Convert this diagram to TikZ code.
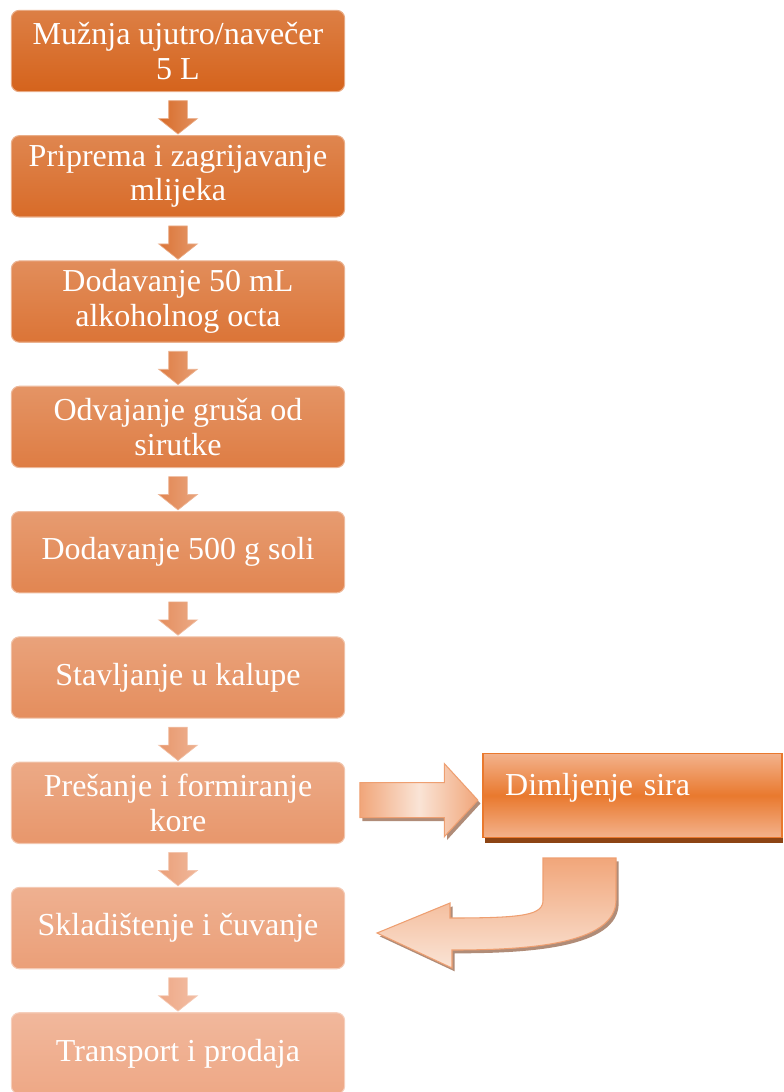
\documentclass[tikz,border=0pt]{standalone}
\usepackage{fontspec}
\setmainfont{Liberation Serif}
\usetikzlibrary{calc,shapes.arrows,shadows}

\definecolor{tamna}{RGB}{213,99,28}
\definecolor{svijetla}{RGB}{238,168,134}
\definecolor{dimrub}{RGB}{233,121,46}
\definecolor{dimsv}{RGB}{243,178,140}
\definecolor{dimsjena}{RGB}{140,68,20}
\definecolor{strelica}{RGB}{241,166,122}
\definecolor{strelicab}{RGB}{250,228,214}
\definecolor{sjena}{RGB}{176,140,120}

\tikzset{
  korak/.style={rectangle, rounded corners=6pt, minimum width=250pt, minimum height=61pt,
    inner sep=2pt, text=white, align=center, font=\fontsize{24}{26}\selectfont,
    draw=#1!55!white, line width=0.8pt, top color=#1!82!white, bottom color=#1},
  strelicica/.style={single arrow, rotate=-90, minimum height=25pt,
    inner xsep=0pt, inner ysep=6.75pt, single arrow head extend=7.5pt, single arrow tip angle=103,
    draw=#1!60!white, line width=0.5pt, left color=#1, right color=#1!75!white},
  dimbox/.style={rectangle, minimum width=224pt, minimum height=63pt, text width=191pt,
    inner xsep=16.5pt, align=left, text height=14pt, text depth=14pt,
    font=\fontsize{24}{26}\selectfont, text=white, draw=dimrub, line width=1.2pt,
    top color=dimsv, bottom color=dimsv, middle color=dimrub,
    general shadow={fill=dimsjena, shadow xshift=1pt, shadow yshift=-4pt}},
  velika/.style={draw=strelica!90!tamna, line width=0.8pt,
    general shadow={fill=sjena, shadow xshift=2pt, shadow yshift=-2.5pt}}
}

\begin{document}
\begin{tikzpicture}[x=0.75pt,y=-0.75pt]
  \useasboundingbox (0,0) rectangle (783,1092);

  \foreach \txt [count=\i, evaluate=\i as \p using {int((\i-1)*12.5)}] in {%
      {Mužnja ujutro/navečer\\5 L},
      {Priprema i zagrijavanje\\mlijeka},
      {Dodavanje 50 mL\\alkoholnog octa},
      {Odvajanje gruša od\\sirutke},
      {Dodavanje 500 g soli},
      {Stavljanje u kalupe},
      {Prešanje i formiranje\\kore},
      {Skladištenje i čuvanje},
      {Transport i prodaja}} {
    \colorlet{boja}{svijetla!\p!tamna}
    \node[korak=boja] (b\i) at (178,{51+125.3*(\i-1)}) {\txt};
  }

  \foreach \i [count=\j from 2, evaluate=\i as \p using {int(\i*12.5)}] in {1,...,8} {
    \colorlet{boja}{svijetla!\p!tamna}
    \node[strelicica=boja] (s\i) at ($(b\i.south)!0.5!(b\j.north)$) {};
  }

  \node[dimbox] (dim) at (632.5,795.5) {Dimljenje sira};

  \node[velika, single arrow, minimum height=88.5pt, inner xsep=0pt, inner ysep=12.75pt,
        single arrow head extend=14.25pt, single arrow tip angle=95,
        left color=strelica, right color=strelica, middle color=strelicab]
    (desno) at ($(b7.east)!0.5!(dim.west)+(-3,1)$) {};

  \path[velika, top color=strelica, bottom color=strelicab]
    (616,858) -- (616,900) .. controls (616,945) and (525,950) .. (452,950)
    -- (452,968) -- (377,933) -- (450,903) -- (450,918)
    .. controls (525,918) and (543,915) .. (543,900) -- (543,858) -- cycle;
\end{tikzpicture}
\end{document}
